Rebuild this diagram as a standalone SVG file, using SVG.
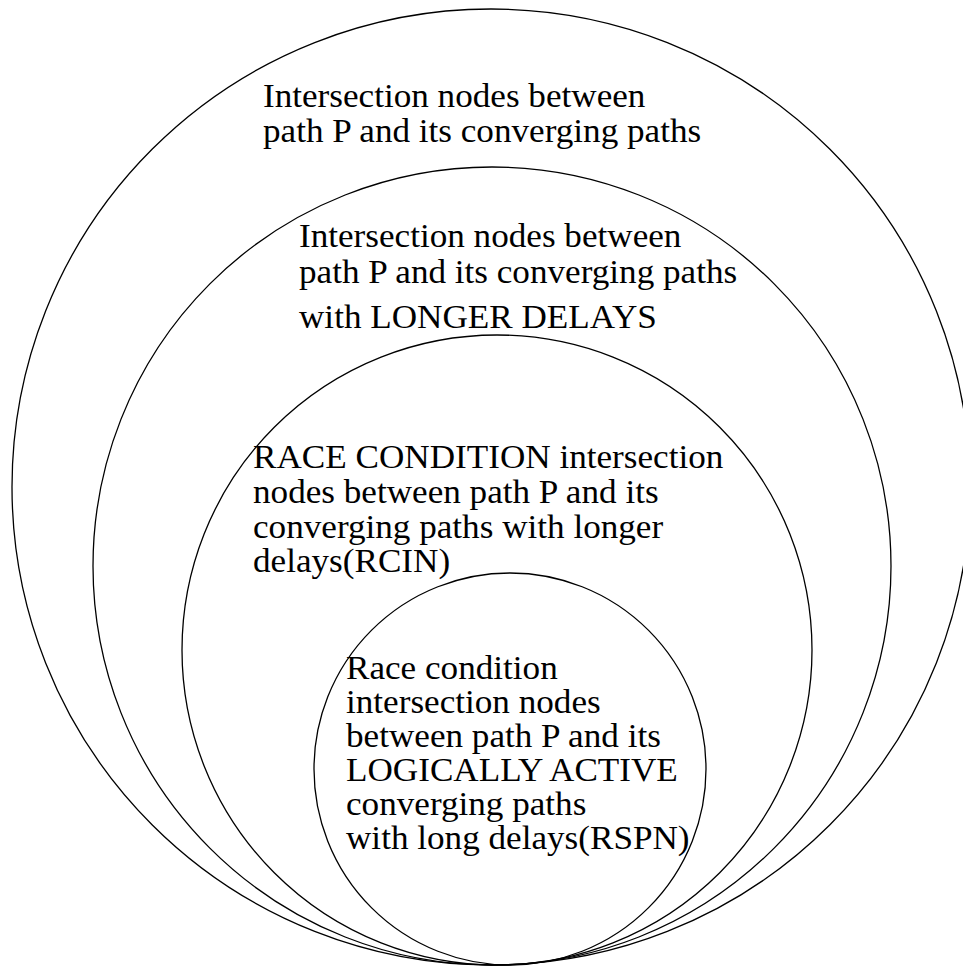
<svg xmlns="http://www.w3.org/2000/svg" width="963" height="968" viewBox="0 0 963 968">
  <style>
    .ring { fill: none; stroke: #000; stroke-width: 1.3; }
    .lbl { font-family: "Liberation Serif", "Times New Roman", serif; font-size: 33px; fill: #000; }
  </style>
  <rect width="963" height="968" fill="#fff"/>

  <!-- nested sets, all tangent at the bottom; labels are set slightly wide -->
  <g id="set-intersections">
    <ellipse class="ring" cx="491" cy="487" rx="479" ry="478"/>
    <g transform="translate(263 0) scale(1.065 1)">
      <text class="lbl" x="0" y="107">Intersection nodes between</text>
      <text class="lbl" x="0" y="142">path P and its converging paths</text>
    </g>
  </g>

  <g id="set-longer-delays">
    <circle class="ring" cx="492" cy="566" r="399"/>
    <g transform="translate(299 0) scale(1.065 1)">
      <text class="lbl" x="0" y="247">Intersection nodes between</text>
      <text class="lbl" x="0" y="283">path P and its converging paths</text>
      <text class="lbl" x="0" y="328">with LONGER DELAYS</text>
    </g>
  </g>

  <g id="set-rcin">
    <circle class="ring" cx="497" cy="650" r="315"/>
    <g transform="translate(253 0) scale(1.065 1)">
      <text class="lbl" x="0" y="468">RACE CONDITION intersection</text>
      <text class="lbl" x="0" y="503">nodes between path P and its</text>
      <text class="lbl" x="0" y="538">converging paths with longer</text>
      <text class="lbl" x="0" y="572">delays(RCIN)</text>
    </g>
  </g>

  <g id="set-rspn">
    <circle class="ring" cx="510" cy="769" r="196"/>
    <g transform="translate(346 0) scale(1.065 1)">
      <text class="lbl" x="0" y="679">Race condition</text>
      <text class="lbl" x="0" y="713">intersection nodes</text>
      <text class="lbl" x="0" y="747">between path P and its</text>
      <text class="lbl" x="0" y="781">LOGICALLY ACTIVE</text>
      <text class="lbl" x="0" y="815">converging paths</text>
      <text class="lbl" x="0" y="849">with long delays(RSPN)</text>
    </g>
  </g>

  <g id="connectors"/>
</svg>
